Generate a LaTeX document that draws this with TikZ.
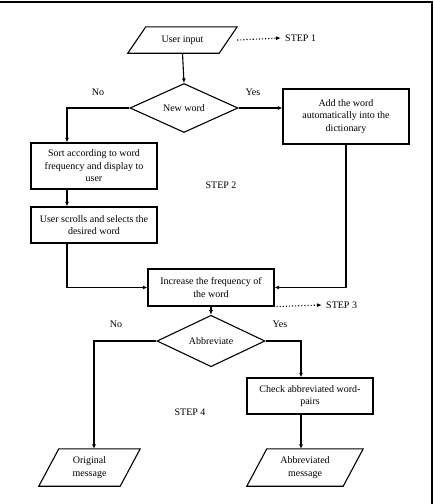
\documentclass[tikz,border=0pt]{standalone}
\usepackage{fontspec}
\setmainfont{Liberation Serif}
\usetikzlibrary{arrows.meta,positioning,shapes.geometric}
\tikzset{
  flowbox/.style={
    draw,
    line width=1.1pt,
    minimum width=126pt,
    align=center,
    inner sep=1pt,
    font=\fontsize{10}{12.5}\selectfont
  },
  decision/.style={
    diamond,
    draw,
    line width=1.1pt,
    inner sep=0pt,
    minimum width=108pt,
    minimum height=36pt,
    font=\fontsize{10}{12.5}\selectfont
  },
  iobox/.style={
    inner sep=1pt,
    align=center,
    font=\fontsize{10}{12.5}\selectfont
  },
  ioline/.style={
    line width=1.1pt,
    line join=miter
  },
  flowarrow/.style={
    -{Latex[length=4.5pt,width=4pt]},
    line width=1.1pt
  },
  dotarrow/.style={
    -{Latex[length=5pt,width=4pt]},
    dotted,
    line width=1.1pt
  },
  steplabel/.style={
    inner sep=4pt,
    font=\fontsize{10}{12.5}\selectfont
  }
}

\begin{document}
\begin{tikzpicture}[x=1pt,y=-1pt]
\useasboundingbox (0,0) rectangle (434,504);
\draw[line width=1.5pt] (0,2) -- (432,2) -- (432,504);

% input / output shapes (parallelograms drawn round their nodes)
\node[iobox, minimum width=91pt, minimum height=26pt] (input) at (182.5,40) {User input};
\node[iobox, minimum width=81pt, minimum height=37pt] (orig) at (89.5,467.5) {Original\\message};
\node[iobox, minimum width=96pt, minimum height=37pt] (abbrmsg) at (305,467.5) {Abbreviated\\message};
\draw[ioline] ([xshift=9pt]input.north west) -- ([xshift=9pt]input.north east)
  -- ([xshift=-9pt]input.south east) -- ([xshift=-9pt]input.south west) -- cycle;
\draw[ioline] ([xshift=10pt]orig.north west) -- ([xshift=10pt]orig.north east)
  -- ([xshift=-10pt]orig.south east) -- ([xshift=-10pt]orig.south west) -- cycle;
\draw[ioline] ([xshift=10pt]abbrmsg.north west) -- ([xshift=10pt]abbrmsg.north east)
  -- ([xshift=-10pt]abbrmsg.south east) -- ([xshift=-10pt]abbrmsg.south west) -- cycle;

\node[decision] (newword) at (184,108) {New word};
\node[flowbox, minimum height=55pt] (add) at (346,116.5) {Add the word\\automatically into the\\dictionary};
\node[flowbox, minimum height=46pt] (sort) at (94,166) {Sort according to word\\frequency and display to\\user};
\node[flowbox, minimum height=36pt] (scroll) at (94,225) {User scrolls and selects the\\desired word};
\node[flowbox, minimum height=37pt] (incr) at (211,287.5) {Increase the frequency of\\the word};
\node[decision, minimum height=35pt] (abbrev) at (211,341) {Abbreviate};
\node[flowbox, minimum height=36pt] (check) at (310,396) {Check abbreviated word-\\pairs};

\node[steplabel, anchor=west] (step1) at (281,38) {STEP 1};
\node[steplabel] (step2) at (221,185) {STEP 2};
\node[steplabel, anchor=west] (step3) at (322,305) {STEP 3};
\node[steplabel] (step4) at (190,412) {STEP 4};
\node[steplabel] (no1) at (98,92) {No};
\node[steplabel] (yes1) at (253,92) {Yes};
\node[steplabel] (no2) at (116,324) {No};
\node[steplabel] (yes2) at (280,324) {Yes};

\coordinate (nobend) at (67,108);
\coordinate (nobend2) at (94,341);
\coordinate (yesbend) at (301,341);

\draw[flowarrow] (input.south) -- (newword.north);
\draw[flowarrow] (newword.west) -- (nobend) -- (nobend |- sort.north);
\draw[flowarrow] (newword.east) -- (newword.east -| add.west);
\draw[flowarrow] (nobend |- sort.south) -- (nobend |- scroll.north);
\draw[flowarrow] (nobend |- scroll.south) |- (incr.west);
\draw[flowarrow] (add.south) |- (incr.east);
\draw[flowarrow] (incr.south) -- (abbrev.north);
\draw[flowarrow] (abbrev.west) -- (nobend2) -- (nobend2 |- orig.north);
\draw[flowarrow] (abbrev.east) -- (yesbend) -- (yesbend |- check.north);
\draw[flowarrow] (yesbend |- check.south) -- (yesbend |- abbrmsg.north);

\draw[dotarrow] ([xshift=9pt]input.east) -- (step1.west);
\draw[dotarrow] ([xshift=2pt]incr.south east) -- (step3.west);
\end{tikzpicture}
\end{document}
